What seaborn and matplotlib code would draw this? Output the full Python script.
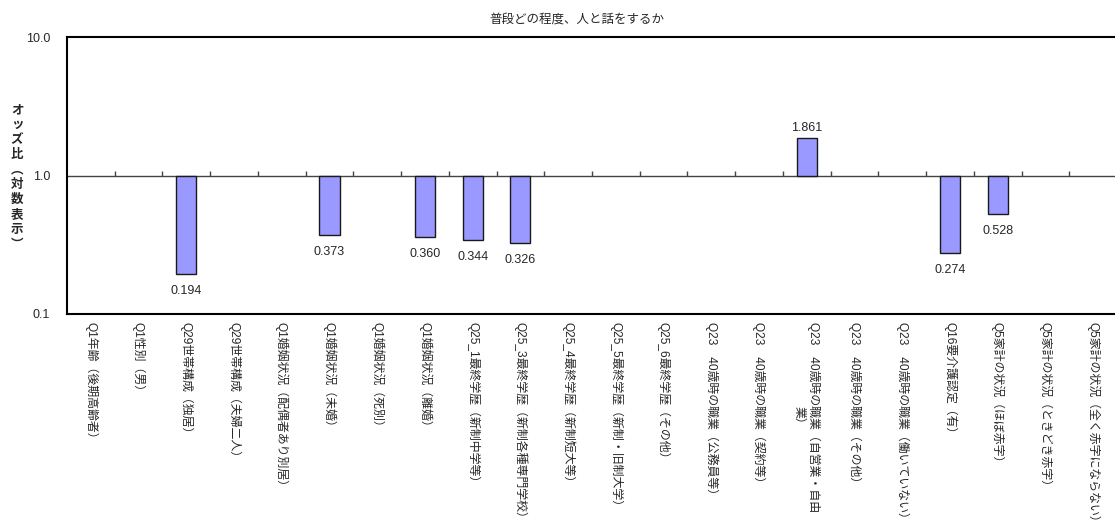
import numpy as np
import pandas as pd
import matplotlib.pyplot as plt
import seaborn as sns

# chart data
title = "普段どの程度、人と話をするか"
ylabel = "オッズ比（対数表示）"

categories = [
    "Q1年齢（後期高齢者）",
    "Q1性別（男）",
    "Q29世帯構成（独居）",
    "Q29世帯構成（夫婦二人）",
    "Q1婚姻状況（配偶者あり別居）",
    "Q1婚姻状況（未婚）",
    "Q1婚姻状況（死別）",
    "Q1婚姻状況（離婚）",
    "Q25_1最終学歴（新制中学等）",
    "Q25_3最終学歴（新制各種専門学校）",
    "Q25_4最終学歴（新制短大等）",
    "Q25_5最終学歴（新制・旧制大学）",
    "Q25_6最終学歴（その他）",
    "Q23　40歳時の職業（公務員等）",
    "Q23　40歳時の職業（契約等）",
    "Q23　40歳時の職業（自営業・自由\n業）",
    "Q23　40歳時の職業（その他）",
    "Q23　40歳時の職業（働いていない）",
    "Q16要介護認定（有）",
    "Q5家計の状況（ほぼ赤字）",
    "Q5家計の状況（ときどき赤字）",
    "Q5家計の状況（全く赤字にならない）",
]
nan = np.nan
odds = [nan, nan, 0.194, nan, nan, 0.373, nan, 0.360, 0.344, 0.326, nan,
        nan, nan, nan, nan, 1.861, nan, nan, 0.274, 0.528, nan, nan]
ytick_values = [0.1, 1.0, 10.0]

# log10 so bars start at odds ratio 1.0
df = pd.DataFrame({"item": categories, "log_odds": np.log10(odds)})

sns.set_style("white")
plt.rcParams['font.family'] = ['Liberation Sans', 'Noto Sans CJK JP', 'DejaVu Sans']

W, H = 1115, 529
fig = plt.figure(figsize=(W / 100, H / 100), dpi=100)
ax = fig.add_axes([67 / W, 1 - 314 / H, 1050 / W, 277 / H])

sns.barplot(data=df, x="item", y="log_odds", order=categories,
            color="#9999FF", saturation=1, edgecolor="#1a1a1a", linewidth=1,
            width=0.42, errorbar=None, ax=ax, zorder=3)

ax.set_ylim(-1, 1)
ax.set_xlim(-0.5, len(categories) - 0.5)
ax.set_yticks(np.log10(ytick_values))
ax.set_yticklabels([f"{v:.1f}" for v in ytick_values], fontsize=9)
ax.set_xticks(range(len(categories)))
ax.set_xticklabels(categories, rotation=-90, ha='center', va='top', fontsize=8.6)
for t in ax.get_xticklabels():
    t.set_multialignment('center')
ax.tick_params(axis='x', length=0, pad=6)
ax.tick_params(axis='y', length=0, pad=12)
ax.set_xlabel("")
ax.set_ylabel("")

# category axis crossing at 1.0 with small tick marks
ax.axhline(0, color="#444444", lw=1, zorder=2)
ax.vlines(np.arange(len(categories) - 1) + 0.5, 0, 0.03, color="#444444", lw=1, zorder=2)

for side in ["left", "top", "bottom"]:
    ax.spines[side].set_color("black")
    ax.spines[side].set_linewidth(1.5)
ax.spines["right"].set_visible(False)

bars = ax.containers[0]
ax.bar_label(bars, fmt=lambda v: f"{10 ** v:.3f}" if v < 0 else "", padding=8, fontsize=9)
ax.bar_label(bars, fmt=lambda v: f"{10 ** v:.3f}" if v > 0 else "", padding=3, fontsize=9)

fig.text(577 / W, 1 - 20 / H, title, ha='center', va='center', fontsize=9)
vert = ylabel.replace("（", "︵").replace("）", "︶")
fig.text(17 / W, 1 - 177 / H, "\n".join(vert), ha='center', va='center',
         fontsize=9, fontweight='bold', linespacing=1.2,
         family=['Noto Sans CJK JP', 'DejaVu Sans'])

fig.savefig("out.png", dpi=100)
